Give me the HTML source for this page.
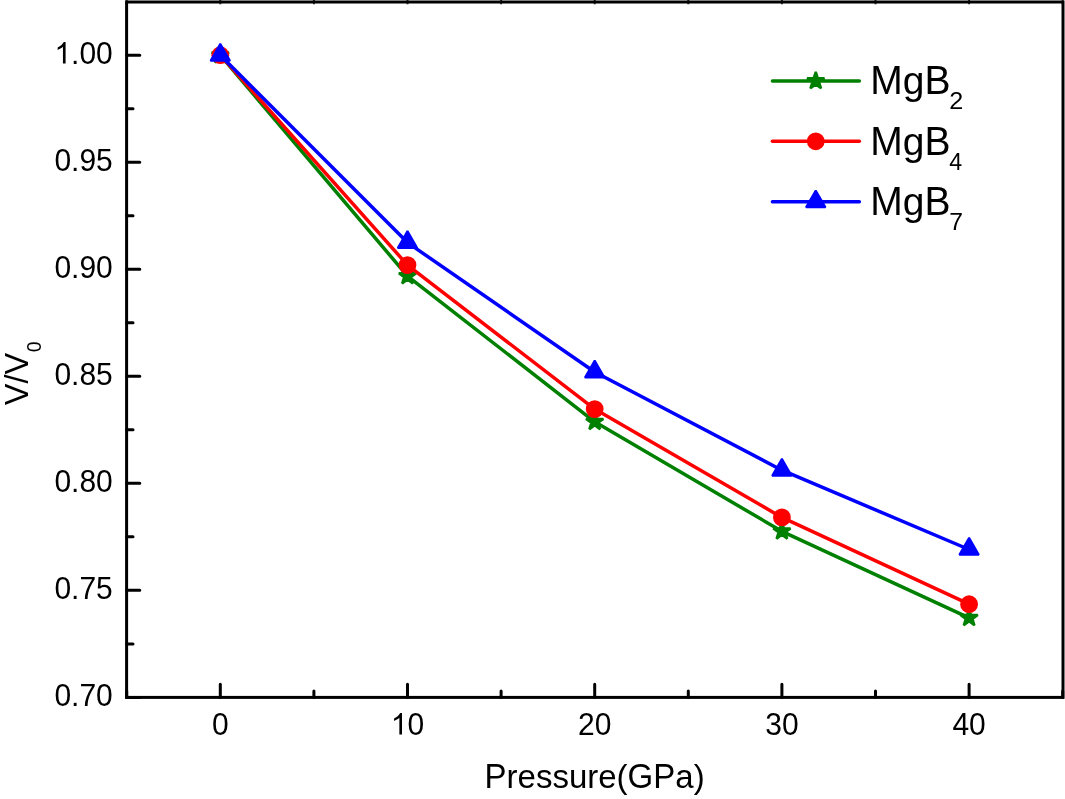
<!DOCTYPE html>
<html><head><meta charset="utf-8"><style>
html,body{margin:0;padding:0;background:#fff;width:1065px;height:799px;overflow:hidden}
svg{display:block;will-change:transform}
text{font-family:"Liberation Sans",sans-serif;fill:#000;font-kerning:none}
</style></head><body>
<svg width="1065" height="799" viewBox="0 0 1065 799">
<rect width="1065" height="799" fill="#fff"/>
<polyline points="220.30,55.20 407.50,276.10 594.70,421.80 781.90,531.30 969.10,617.90" fill="none" stroke="#008000" stroke-width="3.5" stroke-linejoin="round" stroke-linecap="round"/><polygon points="220.30,46.10 222.34,52.39 228.95,52.39 223.61,56.27 225.65,62.56 220.30,58.68 214.95,62.56 216.99,56.27 211.65,52.39 218.26,52.39" fill="#008000" stroke="#008000" stroke-width="2.45" stroke-linejoin="bevel"/><polygon points="407.50,267.00 409.54,273.29 416.15,273.29 410.81,277.17 412.85,283.46 407.50,279.58 402.15,283.46 404.19,277.17 398.85,273.29 405.46,273.29" fill="#008000" stroke="#008000" stroke-width="2.45" stroke-linejoin="bevel"/><polygon points="594.70,412.70 596.74,418.99 603.35,418.99 598.01,422.87 600.05,429.16 594.70,425.28 589.35,429.16 591.39,422.87 586.05,418.99 592.66,418.99" fill="#008000" stroke="#008000" stroke-width="2.45" stroke-linejoin="bevel"/><polygon points="781.90,522.20 783.94,528.49 790.55,528.49 785.21,532.37 787.25,538.66 781.90,534.78 776.55,538.66 778.59,532.37 773.25,528.49 779.86,528.49" fill="#008000" stroke="#008000" stroke-width="2.45" stroke-linejoin="bevel"/><polygon points="969.10,608.80 971.14,615.09 977.75,615.09 972.41,618.97 974.45,625.26 969.10,621.38 963.75,625.26 965.79,618.97 960.45,615.09 967.06,615.09" fill="#008000" stroke="#008000" stroke-width="2.45" stroke-linejoin="bevel"/>
<polyline points="220.30,55.20 407.50,265.10 594.70,409.10 781.90,517.40 969.10,604.20" fill="none" stroke="#ff0000" stroke-width="3.5" stroke-linejoin="round" stroke-linecap="round"/><circle cx="220.30" cy="55.20" r="8.9" fill="#ff0000"/><circle cx="407.50" cy="265.10" r="8.9" fill="#ff0000"/><circle cx="594.70" cy="409.10" r="8.9" fill="#ff0000"/><circle cx="781.90" cy="517.40" r="8.9" fill="#ff0000"/><circle cx="969.10" cy="604.20" r="8.9" fill="#ff0000"/>
<polyline points="220.30,55.20 407.50,242.60 594.70,372.00 781.90,470.20 969.10,549.50" fill="none" stroke="#0000ff" stroke-width="3.5" stroke-linejoin="round" stroke-linecap="round"/><polygon points="220.30,43.78 230.06,60.68 210.54,60.68" fill="#0000ff" stroke="#0000ff" stroke-width="2" stroke-linejoin="bevel"/><polygon points="407.50,231.03 417.26,247.94 397.74,247.94" fill="#0000ff" stroke="#0000ff" stroke-width="2" stroke-linejoin="bevel"/><polygon points="594.70,360.53 604.46,377.44 584.94,377.44" fill="#0000ff" stroke="#0000ff" stroke-width="2" stroke-linejoin="bevel"/><polygon points="781.90,458.73 791.66,475.63 772.14,475.63" fill="#0000ff" stroke="#0000ff" stroke-width="2" stroke-linejoin="bevel"/><polygon points="969.10,537.78 978.86,554.68 959.34,554.68" fill="#0000ff" stroke="#0000ff" stroke-width="2" stroke-linejoin="bevel"/>
<path d="M126.60 697.40H139.80 M126.60 643.88H133.00 M126.60 590.37H139.80 M126.60 536.85H133.00 M126.60 483.33H139.80 M126.60 429.82H133.00 M126.60 376.30H139.80 M126.60 322.78H133.00 M126.60 269.27H139.80 M126.60 215.75H133.00 M126.60 162.23H139.80 M126.60 108.72H133.00 M126.60 55.20H139.80 M126.70 697.40V691.00 M220.30 697.40V684.20 M313.90 697.40V691.00 M407.50 697.40V684.20 M501.10 697.40V691.00 M594.70 697.40V684.20 M688.30 697.40V691.00 M781.90 697.40V684.20 M875.50 697.40V691.00 M969.10 697.40V684.20 M1062.70 697.40V691.00" stroke="#000" stroke-width="3.0" stroke-linecap="round" fill="none"/>
<path d="M126.70 4.20V-2.00 M220.30 4.20V-2.00 M313.90 4.20V-2.00 M407.50 4.20V-2.00 M501.10 4.20V-2.00 M594.70 4.20V-2.00 M688.30 4.20V-2.00 M781.90 4.20V-2.00 M875.50 4.20V-2.00 M969.10 4.20V-2.00 M1062.70 4.20V-2.00" stroke="#262626" stroke-width="2" fill="none"/>
<rect x="126.60" y="2.00" width="936.40" height="695.40" fill="none" stroke="#000" stroke-width="3.0"/>
<text transform="translate(54.41,705.80) scale(1.0,1.0400)" font-size="30">0</text><text transform="translate(71.10,705.80) scale(1.0,1.0000)" font-size="30">.</text><text transform="translate(79.43,705.80) scale(1.0,1.0400)" font-size="30">70</text>
<text transform="translate(54.41,598.77) scale(1.0,1.0400)" font-size="30">0</text><text transform="translate(71.10,598.77) scale(1.0,1.0000)" font-size="30">.</text><text transform="translate(79.43,598.77) scale(1.0,1.0400)" font-size="30">75</text>
<text transform="translate(54.41,491.73) scale(1.0,1.0400)" font-size="30">0</text><text transform="translate(71.10,491.73) scale(1.0,1.0000)" font-size="30">.</text><text transform="translate(79.43,491.73) scale(1.0,1.0400)" font-size="30">80</text>
<text transform="translate(54.41,384.70) scale(1.0,1.0400)" font-size="30">0</text><text transform="translate(71.10,384.70) scale(1.0,1.0000)" font-size="30">.</text><text transform="translate(79.43,384.70) scale(1.0,1.0400)" font-size="30">85</text>
<text transform="translate(54.41,277.67) scale(1.0,1.0400)" font-size="30">0</text><text transform="translate(71.10,277.67) scale(1.0,1.0000)" font-size="30">.</text><text transform="translate(79.43,277.67) scale(1.0,1.0400)" font-size="30">90</text>
<text transform="translate(54.41,170.63) scale(1.0,1.0400)" font-size="30">0</text><text transform="translate(71.10,170.63) scale(1.0,1.0000)" font-size="30">.</text><text transform="translate(79.43,170.63) scale(1.0,1.0400)" font-size="30">95</text>
<path d="M763 0L583 0L583-1147Q518-1085 412-1023Q306-961 222-930L222-1104Q372-1175 484-1275Q596-1375 643-1466L763-1466Z" transform="translate(54.41,63.60) scale(0.01465)"/><text transform="translate(71.10,63.60) scale(1.0,1.0000)" font-size="30">.</text><text transform="translate(79.43,63.60) scale(1.0,1.0400)" font-size="30">00</text>
<text transform="translate(211.96,734.60) scale(1.0,1.0400)" font-size="30">0</text>
<path d="M763 0L583 0L583-1147Q518-1085 412-1023Q306-961 222-930L222-1104Q372-1175 484-1275Q596-1375 643-1466L763-1466Z" transform="translate(390.82,734.60) scale(0.01465)"/><text transform="translate(407.50,734.60) scale(1.0,1.0400)" font-size="30">0</text>
<text transform="translate(578.02,734.60) scale(1.0,1.0400)" font-size="30">20</text>
<text transform="translate(765.22,734.60) scale(1.0,1.0400)" font-size="30">30</text>
<text transform="translate(952.42,734.60) scale(1.0,1.0400)" font-size="30">40</text>
<text transform="translate(484.57,788.00) scale(1.0,1.0400)" font-size="33">P</text><text transform="translate(506.58,788.00) scale(1.0,0.9850)" font-size="33">ressure</text><text transform="translate(616.62,788.00) scale(1.0,1.0000)" font-size="33">(</text><text transform="translate(627.61,788.00) scale(1.0,1.0400)" font-size="33">GP</text><text transform="translate(675.29,788.00) scale(1.0,0.9850)" font-size="33">a</text><text transform="translate(693.64,788.00) scale(1.0,1.0000)" font-size="33">)</text>
<g transform="translate(27.8,405.2) rotate(-90)"><text transform="translate(0.00,0.00) scale(1.0,1.0400)" font-size="32.6">V</text><text transform="translate(21.74,0.00) scale(1.0,1.0000)" font-size="32.6">/</text><text transform="translate(30.80,0.00) scale(1.0,1.0400)" font-size="32.6">V</text><text transform="translate(52.95,12.90) scale(1.0,1.0400)" font-size="19.5">0</text></g>
<line x1="772.4" y1="80.95" x2="859.4" y2="80.95" stroke="#008000" stroke-width="3.4" stroke-linecap="round"/>
<polygon points="815.75,71.85 817.79,78.14 824.40,78.14 819.06,82.02 821.10,88.31 815.75,84.43 810.40,88.31 812.44,82.02 807.10,78.14 813.71,78.14" fill="#008000" stroke="#008000" stroke-width="2.45" stroke-linejoin="bevel"/>
<text transform="translate(870.20,94.00) scale(1.0,1.0400)" font-size="39">M</text><text transform="translate(902.69,94.00) scale(1.0,0.9850)" font-size="39">g</text><text transform="translate(924.38,94.00) scale(1.0,1.0400)" font-size="39">B</text>
<text transform="translate(949.24,108.90) scale(1.12,1.0244)" font-size="22.5">2</text>
<line x1="772.4" y1="141.3" x2="859.4" y2="141.3" stroke="#ff0000" stroke-width="3.4" stroke-linecap="round"/>
<circle cx="815.75" cy="141.30" r="8.9" fill="#ff0000"/>
<text transform="translate(870.20,155.00) scale(1.0,1.0400)" font-size="39">M</text><text transform="translate(902.69,155.00) scale(1.0,0.9850)" font-size="39">g</text><text transform="translate(924.38,155.00) scale(1.0,1.0400)" font-size="39">B</text>
<text transform="translate(949.24,169.90) scale(1.03,1.0244)" font-size="22.5">4</text>
<line x1="772.4" y1="201.7" x2="859.4" y2="201.7" stroke="#0000ff" stroke-width="3.4" stroke-linecap="round"/>
<polygon points="815.75,190.43 825.51,207.33 805.99,207.33" fill="#0000ff" stroke="#0000ff" stroke-width="2" stroke-linejoin="bevel"/>
<text transform="translate(870.20,215.10) scale(1.0,1.0400)" font-size="39">M</text><text transform="translate(902.69,215.10) scale(1.0,0.9850)" font-size="39">g</text><text transform="translate(924.38,215.10) scale(1.0,1.0400)" font-size="39">B</text>
<text transform="translate(949.24,230.00) scale(1.1,1.0244)" font-size="22.5">7</text>
</svg></body></html>
